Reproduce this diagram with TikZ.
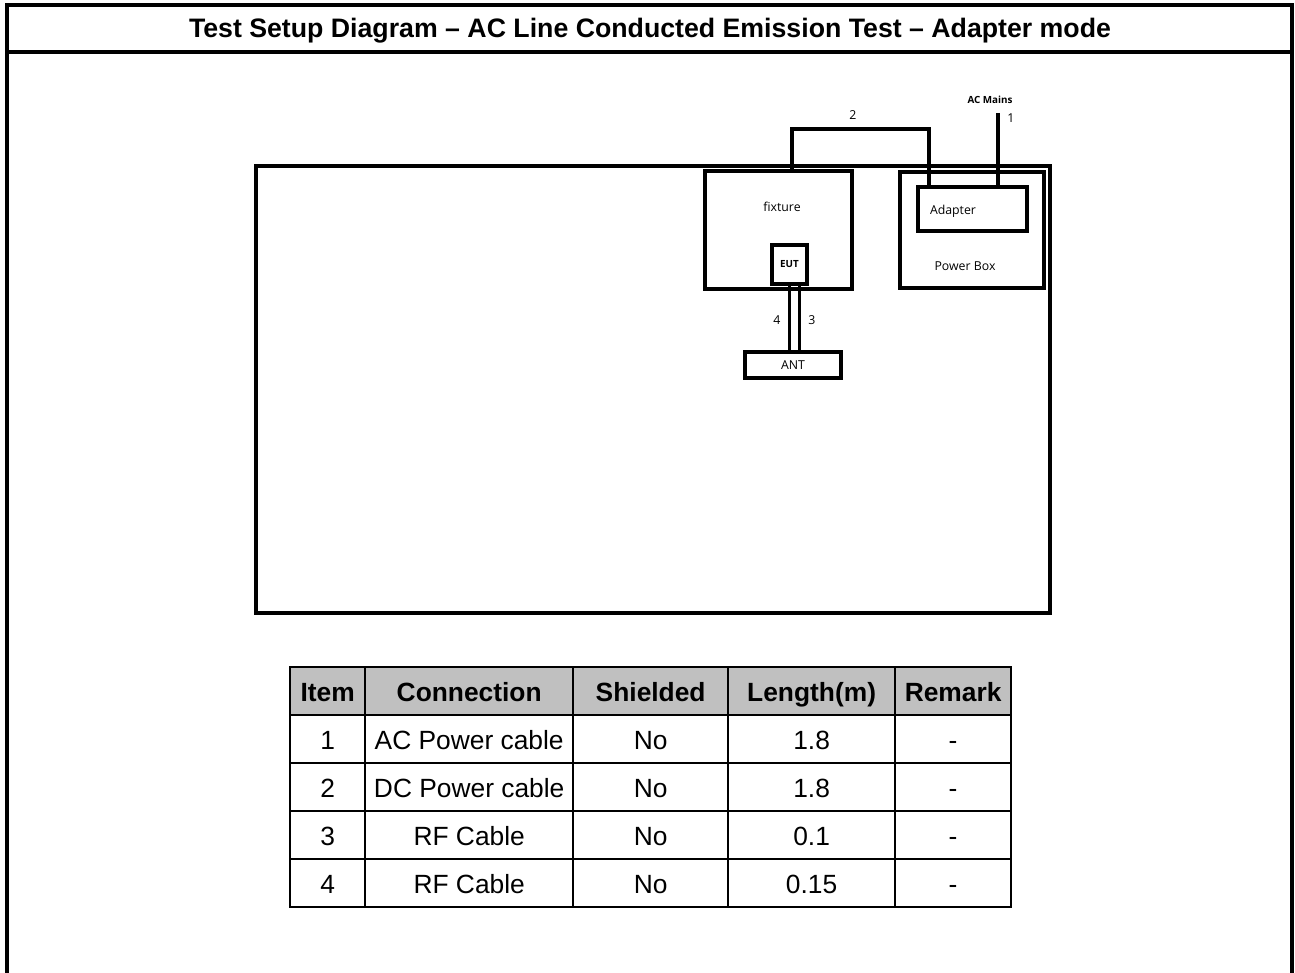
\documentclass[tikz,border=0pt]{standalone}
\usepackage{fontspec}
\setmainfont{Liberation Sans}
\newfontfamily\segoe{Open Sans}
\usepackage{tikz}
\usetikzlibrary{positioning,calc,fit,matrix}
\definecolor{cK}{HTML}{000000}
\definecolor{cG}{HTML}{C0C0C0}
\tikzset{
  frame/.style={line width=2pt,cK},
  box/.style={draw=cK,line width=1.9pt,inner sep=0pt,outer sep=0pt},
  cable/.style={line width=2pt,cK},
  lbl/.style={inner sep=0pt,font=\segoe\fontsize{7}{8}\selectfont},
  blbl/.style={inner sep=0pt,font=\segoe\bfseries\fontsize{5.6}{6}\selectfont},
  cell/.style={draw=cK,line width=1.4pt,inner sep=0pt,outer sep=0pt,
               minimum height=.96cm,text height=13pt,text depth=1.5pt,
               font=\fontsize{15}{17}\selectfont},
}
\begin{document}
\begin{tikzpicture}[x=.02cm,y=-.02cm]
  \useasboundingbox (0,0) rectangle (1295,973);
  % page frame and title
  \draw[frame] (7,975)--(7,5)--(1292,5)--(1292,975);
  \draw[frame] (7,52)--(1292,52);
  \node[font=\bfseries\fontsize{15.2}{18}\selectfont] (ttl) at (650,31)
    {Test Setup Diagram -- AC Line Conducted Emission Test -- Adapter mode};
  % bench and units
  \node[box,fit={(256,166)(1050,613)}] (bench) {};
  \node[box,fit={(705,171)(852,289)}] (fix) {};
  \node[lbl] (fixtxt) at (782,207) {fixture};
  \node[box,fit={(772,245)(807,284)},label={[blbl]center:EUT}] (eut) {};
  \node[box,fit={(745,352)(841,378)},label={[lbl]center:ANT}] (ant) {};
  \node[box,fit={(900,172)(1044,288)}] (pbox) {};
  \node[lbl] (pboxtxt) at (965,266) {Power Box};
  \node[box,fit={(918,187)(1027,231)}] (adp) {};
  \node[lbl] (adptxt) at (953,211) {Adapter};
  \coordinate (mains) at (998,113);
  % cables
  \draw[cable]([xshift=.27cm]fix.north)--++(0,-42)-|([xshift=-.87cm]adp.north);
  \draw[cable](mains)--(mains |- adp.north);
  \draw[cable](eut.south)--(eut.south |- ant.north);
  \draw[cable]([xshift=.2cm]eut.south)--([xshift=.2cm]eut.south |- ant.north);
  \node[lbl] (n2) at (853,115) {2};
  \node[lbl] (n1) at (1011,118) {1};
  \node[blbl] (acm) at (990,100) {AC Mains};
  \node[lbl] (n4) at (777,320) {4};
  \node[lbl] (n3) at (812,320) {3};
  % cable table
  \matrix[matrix of nodes,anchor=north west,inner sep=0pt,outer sep=0pt,
    column sep=-1.4pt,row sep=-1.4pt,nodes={cell},
    row 1/.style={nodes={fill=cG,font=\bfseries\fontsize{15}{17}\selectfont}},
    column 1/.style={nodes={minimum width=1.5cm}},
    column 2/.style={nodes={minimum width=4.16cm}},
    column 3/.style={nodes={minimum width=3.1cm}},
    column 4/.style={nodes={minimum width=3.34cm}},
    column 5/.style={nodes={minimum width=2.32cm}}] (tab) at (289,666) {
    Item & Connection & Shielded & Length(m) & Remark \\
    1 & AC Power cable & No & 1.8 & - \\
    2 & DC Power cable & No & 1.8 & - \\
    3 & RF Cable & No & 0.1 & - \\
    4 & RF Cable & No & 0.15 & - \\
  };
\end{tikzpicture}
\end{document}
